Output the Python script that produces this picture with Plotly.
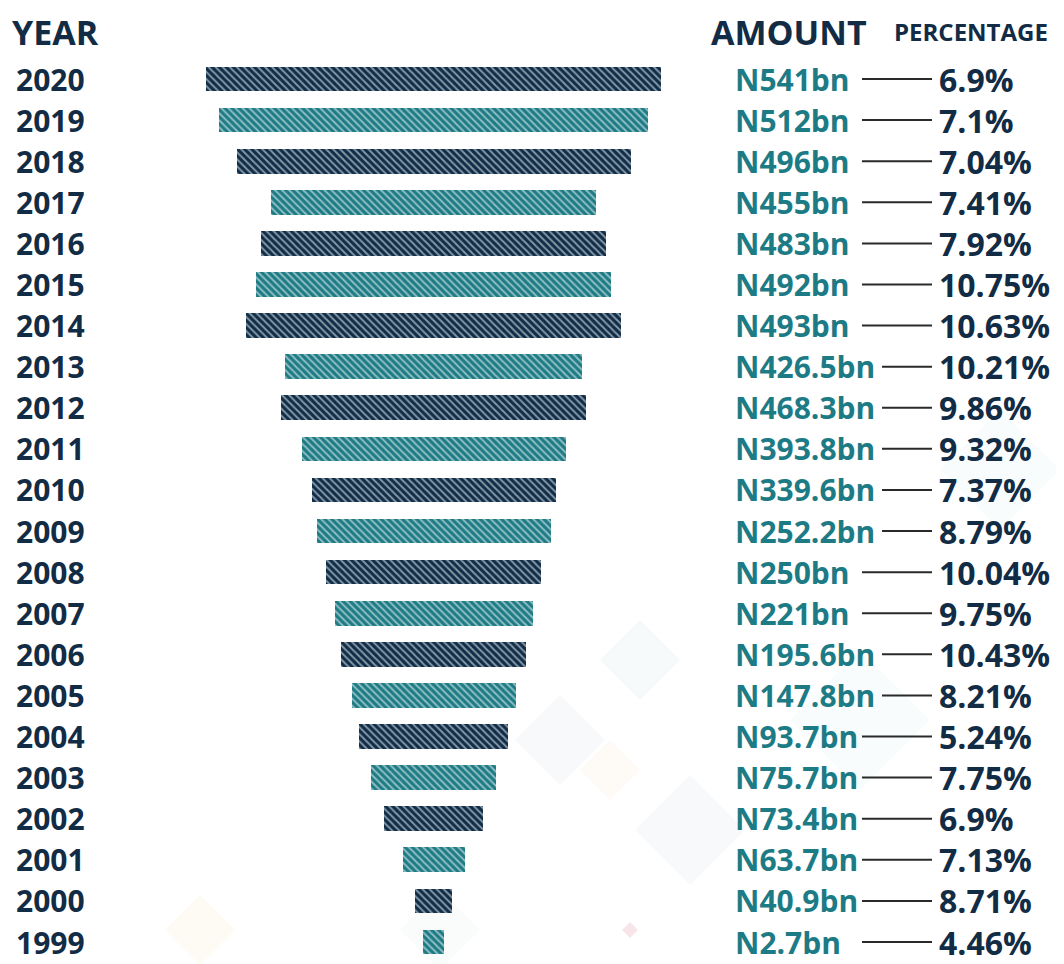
import plotly.graph_objects as go

years = [2020, 2019, 2018, 2017, 2016, 2015, 2014, 2013, 2012, 2011, 2010,
         2009, 2008, 2007, 2006, 2005, 2004, 2003, 2002, 2001, 2000, 1999]
amounts = ["N541bn", "N512bn", "N496bn", "N455bn", "N483bn", "N492bn", "N493bn",
           "N426.5bn", "N468.3bn", "N393.8bn", "N339.6bn", "N252.2bn", "N250bn",
           "N221bn", "N195.6bn", "N147.8bn", "N93.7bn", "N75.7bn", "N73.4bn",
           "N63.7bn", "N40.9bn", "N2.7bn"]
percentages = ["6.9%", "7.1%", "7.04%", "7.41%", "7.92%", "10.75%", "10.63%",
               "10.21%", "9.86%", "9.32%", "7.37%", "8.79%", "10.04%", "9.75%",
               "10.43%", "8.21%", "5.24%", "7.75%", "6.9%", "7.13%", "8.71%", "4.46%"]
# relative bar lengths as drawn in the picture
bar_lengths = [455, 429, 394, 325, 345, 355, 375, 297, 305, 264, 244,
               234, 215, 198, 185, 164, 149, 125, 99, 62, 37, 21]

NAVY = "#0f2d48"
TEAL = "#1d7b85"
TEXT_DARK = "#132c45"

OFF = 8                      # page margin of the html body
W, H = 1056, 956             # figure size
CENTER = 433.5 - OFF


def px(sx):
    return (sx - OFF) / W


def py(sy):
    return 1 - (sy - OFF) / H


fig = go.Figure()

# faint decorative diamonds in the background
deco = [(640, 660, 40, "rgba(200,222,230,0.15)"),
        (560, 740, 45, "rgba(235,238,242,0.35)"),
        (690, 830, 55, "rgba(228,234,240,0.3)"),
        (610, 770, 30, "rgba(250,235,215,0.25)"),
        (860, 720, 70, "rgba(225,240,242,0.2)"),
        (1000, 470, 60, "rgba(225,240,242,0.2)"),
        (200, 930, 35, "rgba(250,238,215,0.25)"),
        (440, 930, 40, "rgba(230,242,238,0.25)"),
        (630, 930, 8, "rgba(235,190,200,0.4)")]
shapes = []
for cx, cy, r, col in deco:
    path = (f"M {px(cx)},{py(cy - r)} L {px(cx + r)},{py(cy)} "
            f"L {px(cx)},{py(cy + r)} L {px(cx - r)},{py(cy)} Z")
    shapes.append(dict(type="path", xref="paper", yref="paper", path=path,
                       fillcolor=col, line=dict(width=0), layer="below"))

colors = [NAVY if i % 2 == 0 else TEAL for i in range(len(years))]
fg = ["#1f4565" if i % 2 == 0 else "#15646d" for i in range(len(years))]
fig.add_trace(go.Bar(
    y=years, x=bar_lengths, base=[-v / 2 for v in bar_lengths],
    orientation="h", width=0.6,
    marker=dict(color=colors, line=dict(width=0),
                pattern=dict(shape="\\", fgcolor=fg, size=5, solidity=0.4)),
    hoverinfo="skip", showlegend=False,
))

FONT = "Open Sans"
ann = []
for y, a, p in zip(years, amounts, percentages):
    ann.append(dict(x=px(14), xref="paper", y=y, yref="y", text=str(y),
                    xanchor="left", yanchor="middle", showarrow=False,
                    font=dict(family=FONT, size=30, color=TEXT_DARK, weight="bold")))
    ann.append(dict(x=px(733), xref="paper", y=y, yref="y", text=a,
                    xanchor="left", yanchor="middle", showarrow=False,
                    font=dict(family=FONT, size=30, color=TEAL, weight="bold")))
    ann.append(dict(x=px(937), xref="paper", y=y, yref="y", text=p,
                    xanchor="left", yanchor="middle", showarrow=False,
                    font=dict(family=FONT, size=32, color=TEXT_DARK, weight="bold")))

ann.append(dict(x=px(10), xref="paper", y=py(32), yref="paper", text="YEAR",
                xanchor="left", yanchor="middle", showarrow=False,
                font=dict(family=FONT, size=34, color=TEXT_DARK, weight="bold")))
ann.append(dict(x=px(709), xref="paper", y=py(32), yref="paper", text="AMOUNT",
                xanchor="left", yanchor="middle", showarrow=False,
                font=dict(family=FONT, size=34, color=TEXT_DARK, weight="bold")))
ann.append(dict(x=px(892), xref="paper", y=py(32), yref="paper", text="PERCENTAGE",
                xanchor="left", yanchor="middle", showarrow=False,
                font=dict(family=FONT, size=24, color=TEXT_DARK, weight="bold")))

for y, a in zip(years, amounts):
    x0 = 882 if len(a) >= 8 else 862
    shapes.append(dict(type="line", xref="paper", yref="y",
                       x0=px(x0), x1=px(932), y0=y, y1=y,
                       line=dict(color="#2a2a2a", width=2)))

# y axis: 2020 at screen y 79, 1999 at screen y 942
step = (942 - 79) / 21
y_top = 2020 + (79 - OFF) / step
y_bot = 1999 - (OFF + H - 942) / step

fig.update_layout(
    width=W, height=H,
    margin=dict(l=0, r=0, t=0, b=0),
    paper_bgcolor="white", plot_bgcolor="rgba(0,0,0,0)",
    xaxis=dict(range=[-CENTER, W - CENTER], visible=False, fixedrange=True),
    yaxis=dict(range=[y_bot, y_top], visible=False, fixedrange=True),
    annotations=ann, shapes=shapes, bargap=0,
)
fig.write_html("out.html")
